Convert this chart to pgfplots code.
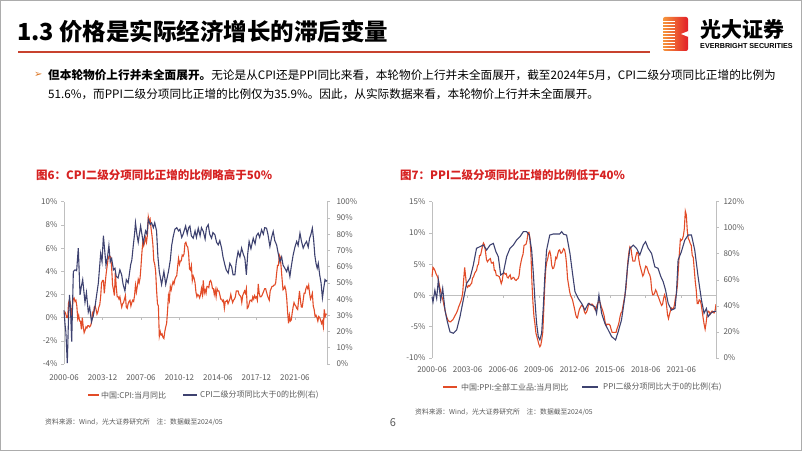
\documentclass[border=0pt]{standalone}
\usepackage{pgfplots}
\pgfplotsset{compat=1.18}
\usepackage{pgfplotstable}
\usepackage{fontspec}
\setmainfont{Noto Sans CJK SC}
\newfontfamily\dejavu{DejaVu Sans}
\newfontfamily\lib{Liberation Sans}
\definecolor{cred}{RGB}{226,76,40}
\definecolor{cnavy}{RGB}{62,66,112}
\definecolor{tred}{RGB}{214,34,34}
\definecolor{tgrey}{RGB}{89,89,89}
\definecolor{agrey}{RGB}{191,191,191}
\definecolor{lred}{RGB}{200,66,46}

% China CPI YoY, monthly 2000-06 .. 2024-05
\pgfplotstableread[row sep=\\]{v\\
0.5\\0.5\\0.3\\0.0\\0.0\\1.3\\1.5\\
1.2\\0.0\\0.8\\1.6\\1.7\\1.4\\1.5\\1.0\\-0.1\\0.2\\-0.3\\-0.3\\
-1.0\\0.0\\-0.8\\-1.3\\-1.1\\-0.8\\-0.9\\-0.7\\-0.7\\-0.8\\-0.7\\-0.4\\
0.4\\0.2\\0.9\\1.0\\0.7\\0.3\\0.5\\0.9\\1.1\\1.8\\3.0\\3.2\\
3.2\\2.1\\3.0\\3.8\\4.4\\5.0\\5.3\\5.3\\5.2\\4.3\\2.8\\2.4\\
1.9\\3.9\\2.7\\1.8\\1.8\\1.6\\1.8\\1.3\\0.9\\1.2\\1.3\\1.6\\
1.9\\0.9\\0.8\\1.2\\1.4\\1.5\\1.0\\1.3\\1.5\\1.4\\1.9\\2.8\\
2.2\\2.7\\3.3\\3.0\\3.4\\4.4\\5.6\\6.5\\6.2\\6.5\\6.9\\6.5\\
7.1\\8.7\\8.3\\8.5\\7.7\\7.1\\6.3\\4.9\\4.6\\4.0\\2.4\\1.2\\
1.0\\-1.6\\-1.2\\-1.5\\-1.4\\-1.7\\-1.8\\-1.2\\-0.8\\-0.5\\0.6\\1.9\\
1.5\\2.7\\2.4\\2.8\\3.1\\2.9\\3.3\\3.5\\3.6\\4.4\\5.1\\4.6\\
4.9\\4.9\\5.4\\5.3\\5.5\\6.4\\6.5\\6.2\\6.1\\5.5\\4.2\\4.1\\
4.5\\3.2\\3.6\\3.4\\3.0\\2.2\\1.8\\2.0\\1.9\\1.7\\2.0\\2.5\\
2.0\\3.2\\2.1\\2.4\\2.1\\2.7\\2.7\\2.6\\3.1\\3.2\\3.0\\2.5\\
2.5\\2.0\\2.4\\1.8\\2.5\\2.3\\2.3\\2.0\\1.6\\1.6\\1.4\\1.5\\
0.8\\1.4\\1.4\\1.5\\1.2\\1.4\\1.6\\2.0\\1.6\\1.3\\1.5\\1.6\\
1.8\\2.3\\2.3\\2.3\\2.0\\1.9\\1.8\\1.3\\1.9\\2.1\\2.3\\2.1\\
2.5\\0.8\\0.9\\1.2\\1.5\\1.5\\1.4\\1.8\\1.6\\1.9\\1.7\\1.8\\
1.5\\2.9\\2.1\\1.8\\1.8\\1.9\\2.1\\2.3\\2.5\\2.5\\2.2\\1.9\\
1.7\\1.5\\2.3\\2.5\\2.7\\2.7\\2.8\\2.8\\3.0\\3.8\\4.5\\4.5\\
5.4\\5.2\\4.3\\3.3\\2.4\\2.5\\2.7\\2.4\\1.7\\0.5\\-0.5\\0.2\\
-0.3\\-0.2\\0.4\\0.9\\1.3\\1.1\\1.0\\0.8\\0.7\\1.5\\2.3\\1.5\\
0.9\\0.9\\1.5\\2.1\\2.1\\2.5\\2.7\\2.5\\2.8\\2.1\\1.6\\1.8\\
2.1\\1.0\\0.7\\0.1\\0.2\\0.0\\-0.3\\0.1\\0.0\\-0.2\\-0.5\\-0.3\\
-0.8\\0.7\\0.1\\0.3\\0.3\\
}\cpi

% China PPI YoY, monthly 2000-06 .. 2024-05
\pgfplotstableread[row sep=\\]{v\\
3.0\\4.5\\4.3\\4.0\\3.5\\3.2\\2.8\\
2.0\\1.2\\0.5\\-0.2\\-0.7\\-1.5\\-2.2\\-3.0\\-3.5\\-3.9\\-4.1\\-4.2\\
-4.2\\-4.0\\-3.9\\-3.6\\-3.3\\-3.0\\-2.7\\-2.3\\-1.8\\-1.4\\-1.0\\-0.5\\
0.4\\2.5\\4.5\\3.0\\1.5\\1.3\\1.6\\1.5\\1.8\\1.9\\2.8\\3.0\\
3.5\\3.8\\4.0\\4.8\\5.0\\6.4\\6.4\\7.1\\7.9\\8.4\\8.1\\7.1\\
5.8\\5.4\\5.6\\5.8\\5.9\\5.2\\5.2\\5.3\\4.0\\4.0\\3.2\\3.2\\
3.1\\3.0\\2.5\\1.9\\2.4\\3.5\\3.6\\3.4\\3.5\\2.9\\2.8\\3.1\\
3.3\\2.6\\2.7\\2.9\\2.8\\2.5\\2.4\\2.6\\2.7\\3.2\\4.6\\5.4\\
6.1\\6.6\\8.0\\8.1\\8.2\\8.8\\10.0\\10.1\\9.1\\6.6\\2.0\\-1.1\\
-3.3\\-4.5\\-6.0\\-6.6\\-7.2\\-7.8\\-8.2\\-7.9\\-7.0\\-5.8\\-2.1\\1.7\\
4.3\\5.4\\5.9\\6.8\\7.1\\6.4\\4.8\\4.3\\4.4\\5.0\\6.1\\5.9\\
6.6\\7.2\\7.3\\6.8\\6.8\\7.1\\7.5\\7.3\\6.5\\5.0\\2.7\\1.7\\
0.7\\0.0\\-0.3\\-0.7\\-1.4\\-2.1\\-2.9\\-3.5\\-3.6\\-2.8\\-2.2\\-1.9\\
-1.6\\-1.6\\-1.9\\-2.6\\-2.9\\-2.7\\-2.3\\-1.6\\-1.3\\-1.5\\-1.4\\-1.4\\
-1.6\\-2.0\\-2.3\\-2.0\\-1.4\\-1.1\\-0.9\\-1.2\\-1.8\\-2.2\\-2.7\\-3.3\\
-4.3\\-4.8\\-4.6\\-4.6\\-4.6\\-4.8\\-5.4\\-5.9\\-5.9\\-5.9\\-5.9\\-5.9\\
-5.3\\-4.9\\-4.3\\-3.4\\-2.8\\-2.6\\-1.7\\-0.8\\0.1\\1.2\\3.3\\5.5\\
6.9\\7.8\\7.6\\6.4\\5.5\\5.5\\5.5\\6.3\\6.9\\6.9\\5.8\\4.9\\
4.3\\3.7\\3.1\\3.4\\4.1\\4.7\\4.6\\4.1\\3.6\\3.3\\2.7\\0.9\\
0.1\\0.1\\0.4\\0.9\\0.6\\0.0\\-0.3\\-0.8\\-1.2\\-1.6\\-1.4\\-0.5\\
0.1\\-0.4\\-1.5\\-3.1\\-3.7\\-3.0\\-2.4\\-2.0\\-2.1\\-2.1\\-1.5\\-0.4\\
0.3\\1.7\\4.4\\6.8\\9.0\\8.8\\9.0\\9.5\\10.7\\13.5\\12.9\\10.3\\
9.1\\8.8\\8.3\\8.0\\6.4\\6.1\\4.2\\2.3\\0.9\\-1.3\\-1.3\\-0.7\\
-0.8\\-1.4\\-2.5\\-3.6\\-4.6\\-5.4\\-4.4\\-3.0\\-2.5\\-2.6\\-3.0\\-2.7\\
-2.5\\-2.7\\-2.8\\-2.5\\-1.4\\
}\ppi

\pgfplotsset{
  slide/.style={
    scale only axis, anchor=south west, xmin=0, xmax=287,
    tick label style={font=\fontsize{8bp}{9bp}\selectfont, text=tgrey},
    /pgf/number format/assume math mode=true,
    axis line style={agrey, line width=0.6bp},
    tick style={agrey, line width=0.6bp},
    tick align=outside, major tick length=3bp,
    yticklabel={\pgfmathprintnumber{\tick}\%},
    axis y line*=left, axis x line=none, xtick=\empty,
    clip=false,
  },
  rightax/.style={axis y line*=right},
}
\tikzset{xl/.style={text=tgrey, font=\fontsize{8bp}{9bp}\selectfont, inner sep=0pt}}

\begin{document}
\begin{tikzpicture}
\path[use as bounding box] (0,0) rectangle (802bp,451bp);
\draw[gray!65, line width=0.8bp] (0.4bp,0.4bp) rectangle (801.6bp,450.6bp);

% header
\node[anchor=west, inner sep=0pt, font=\fontsize{23.5bp}{25bp}\selectfont\bfseries] at (17bp,420bp) {1.3 价格是实际经济增长的滞后变量};
\draw[lred, line width=2.6bp] (18bp,399bp) -- (650bp,399bp);

% logo
\shade[left color={rgb,255:red,246;green,150;blue,60}, right color={rgb,255:red,226;green,30;blue,40}, rounded corners=2bp] (663bp,400bp) rectangle (688bp,434bp);
\foreach \yy in {403,406,...,431} \draw[white, line width=0.7bp] (663bp,\yy bp) -- (675bp,\yy bp);
\fill[white] (688.5bp,414bp) -- (681bp,417bp) -- (688.5bp,420bp) -- cycle;
\node[anchor=west, inner sep=0pt, font=\fontsize{21bp}{23bp}\selectfont\bfseries] at (700bp,422bp) {光大证券};
\node[anchor=west, inner sep=0pt, font=\lib\fontsize{7.2bp}{8bp}\selectfont\bfseries] at (700bp,405bp) {EVERBRIGHT SECURITIES};

% bullet text
\node[anchor=west, inner sep=0pt, text={rgb,255:red,220;green,120;blue,40}, font=\dejavu\fontsize{10bp}{12bp}\selectfont] at (34bp,376bp) {➢};
\node[anchor=west, inner sep=0pt, font=\fontsize{11.65bp}{13bp}\selectfont] at (48bp,376bp) {{\bfseries 但本轮物价上行并未全面展开。}无论是从CPI还是PPI同比来看，本轮物价上行并未全面展开，截至2024年5月，CPI二级分项同比正增的比例为};
\node[anchor=west, inner sep=0pt, font=\fontsize{11.65bp}{13bp}\selectfont] at (48bp,357bp) {51.6\%，而PPI二级分项同比正增的比例仅为35.9\%。因此，从实际数据来看，本轮物价上行并未全面展开。};

% chart titles
\node[anchor=west, inner sep=0pt, text=tred, font=\fontsize{11.5bp}{13bp}\selectfont\bfseries] at (36bp,276bp) {图6：CPI二级分项同比正增的比例略高于50\%};
\node[anchor=west, inner sep=0pt, text=tred, font=\fontsize{11.5bp}{13bp}\selectfont\bfseries] at (400bp,276bp) {图7：PPI二级分项同比正增的比例低于40\%};

% ---------- Chart 1 ----------
\begin{axis}[slide, at={(64bp,87bp)}, width=263bp, height=162.3bp,
  ymin=-4, ymax=10, ytick={-4,-2,...,10}]
\draw[agrey, line width=0.6bp] (axis cs:0,0) -- (axis cs:287,0);
\node[xl] at (axis cs:0,-5.2) {2000-06};
\node[xl] at (axis cs:42,-5.2) {2003-12};
\node[xl] at (axis cs:84,-5.2) {2007-06};
\node[xl] at (axis cs:126,-5.2) {2010-12};
\node[xl] at (axis cs:168,-5.2) {2014-06};
\node[xl] at (axis cs:210,-5.2) {2017-12};
\node[xl] at (axis cs:252,-5.2) {2021-06};
\addplot[cred, line width=1.1bp] table[x expr=\coordindex, y=v] {\cpi};
\end{axis}
\begin{axis}[slide, rightax, at={(64bp,87bp)}, width=263bp, height=162.3bp,
  ymin=0, ymax=100, ytick={0,10,...,100}, yticklabel style={xshift=3bp}]
\addplot[cnavy, line width=1.1bp] coordinates {
(0,33) (1.2,24) (2,20) (3.6,0.5) (5,30) (6,42.6) (7,35) (8.4,13.8) (10.2,57) (12,58) (13.8,57.5) (15.6,71.4)
(17.5,42.6) (19,48) (20.4,52) (22.9,38) (24.5,44) (26.5,32) (28,35) (30,26) (32,30) (34,36) (37.5,50)
(40,68) (41.5,63) (43,79) (45.8,61) (47.5,66) (49,73) (50.5,63) (52,65) (54,58) (55.6,59) (57,54) (59,53)
(61,58) (62.9,55) (64.5,49) (66.5,45) (68,52) (70,50) (72.7,61) (74,64) (75.6,73) (77,80) (78,87) (79.5,80)
(81,75) (83.6,85) (85,80) (86.5,74.5) (89,82) (90.5,80) (92,89) (94,86) (95.6,87) (97.5,84) (99,87) (101,82)
(102.5,66) (104,57) (106.5,49) (109,57) (111,49) (114,57) (116,64) (117.5,73) (119,78) (121,83) (123,84)
(125,82) (126.5,83) (128.5,78) (130,80) (132.7,85) (134.5,80) (136,84) (137.4,85) (139,79) (141,77.5) (143,82)
(144.5,78) (146.5,83.7) (148.5,79) (150,84) (152,81.7) (154,77) (155.5,84) (157.4,85.8) (159,80) (161,77.5)
(162.5,81) (164.7,79.6) (166.5,75) (168.3,73.4) (170,76) (172,71.4) (173.5,66) (175.6,61) (177,58) (179.2,56)
(181,62) (182.9,60) (184.5,55) (186.5,55) (188,63) (190,69.3) (192,66) (193.8,71.4) (195.5,68) (197.4,65)
(199,55) (200.5,68) (202,75.5) (204,71) (206.5,77.5) (208.5,74) (210,79) (211.9,80.6) (213.5,78) (215.6,82.7)
(217.5,80) (219,84) (221,83.7) (222.5,80) (224.7,72.4) (226.5,78) (228.3,81.7) (230,76) (232,73.4) (233.8,68)
(235.6,63) (237.5,66) (239,61) (241,59) (243,56.9) (244.5,60) (246.5,53.9) (248,60) (250,67) (252,72)
(253.9,75.5) (255.5,73) (257.5,80.6) (259,76) (261,71.4) (263,74) (264.7,75.5) (266.5,72) (268,77.5)
(269.5,80) (271,83.7) (272.5,76) (273.7,67) (275,62) (276.3,59) (277.5,62) (279,55) (280.5,50) (282,40.7)
(283.5,47) (284.8,52) (286,51) (287,51.6)};
\end{axis}
% small tick marks on the zero line of chart 1
\foreach \tx in {102.5,141.0,179.5,217.9,256.4,294.9}
  \draw[agrey, line width=0.6bp] (\tx bp,133.4bp) -- (\tx bp,131bp);

% legend 1
\draw[cred, line width=1.1bp] (88bp,56bp) -- (99bp,56bp);
\node[anchor=west, inner sep=0pt, text=tgrey, font=\fontsize{8bp}{9bp}\selectfont] at (101bp,56bp) {中国:CPI:当月同比};
\draw[cnavy, line width=1.1bp] (183bp,56bp) -- (197bp,56bp);
\node[anchor=west, inner sep=0pt, text=tgrey, font=\fontsize{8bp}{9bp}\selectfont] at (200bp,56bp) {CPI二级分项同比大于0的比例(右)};
\node[anchor=west, inner sep=0pt, text=tgrey, font=\fontsize{6.8bp}{8bp}\selectfont] at (45bp,29bp) {资料来源：Wind，光大证券研究所\quad 注：数据截至2024/05};

% ---------- Chart 2 ----------
\begin{axis}[slide, at={(432bp,93bp)}, width=284bp, height=156.3bp,
  ymin=-10, ymax=15, ytick={-10,-5,...,15}]
\draw[agrey, line width=0.6bp] (axis cs:0,0) -- (axis cs:287,0);
\node[xl] at (axis cs:0,-11.8) {2000-06};
\node[xl] at (axis cs:36,-11.8) {2003-06};
\node[xl] at (axis cs:72,-11.8) {2006-06};
\node[xl] at (axis cs:108,-11.8) {2009-06};
\node[xl] at (axis cs:144,-11.8) {2012-06};
\node[xl] at (axis cs:180,-11.8) {2015-06};
\node[xl] at (axis cs:216,-11.8) {2018-06};
\node[xl] at (axis cs:252,-11.8) {2021-06};
\addplot[cred, line width=1.1bp] table[x expr=\coordindex, y=v] {\ppi};
\end{axis}
\begin{axis}[slide, rightax, at={(432bp,93bp)}, width=284bp, height=156.3bp,
  ymin=0, ymax=120, ytick={0,20,...,120}, yticklabel style={xshift=1bp}]
\addplot[cnavy, line width=1.1bp] coordinates {
(0,47) (1,43) (2.9,52) (4.7,45.7) (6.4,59.9) (8.8,44.5) (10.8,53.5) (13.1,36.8) (15.5,27.9) (18.2,20)
(21.5,19) (24.9,21.5) (28.3,31.7) (31.6,44.5) (35,57.3) (38.4,61.2) (41.75,71.4) (45,84.2) (48.5,85.5)
(51.9,86.7) (55.2,82.9) (58.6,86.7) (62,88) (64.6,81.6) (67,77.8) (69.4,63.7) (72,65) (75.4,77.8)
(78.8,84.2) (82.2,86.7) (85.5,90.6) (88.9,93.1) (92.3,97) (95.6,97) (98.3,94.4) (100.7,82.9) (102.4,65)
(104,44.5) (105.7,26.6) (107.4,16.4) (109,13.9) (110.8,19) (112.5,39.4) (114,62.4) (115.8,82.9) (119,94.4)
(122.6,95.2) (129,95.2) (131,97) (133,95) (136,94.4) (139.4,80.3) (142,65) (144.5,50.9) (147.8,45.7)
(151.2,41.9) (154.5,36.8) (158,41.9) (161.3,40.6) (164.6,39.4) (166.3,34.3) (168.7,48.3) (171.4,34.3)
(174.7,26.6) (178.1,21.5) (181.5,16.4) (185.5,13.9) (188.2,20.3) (191.5,29.2) (194.9,47) (197.6,70)
(200,84.2) (203.4,86.7) (206.7,84.2) (210,79.1) (213.5,86.7) (215.8,89.3) (218.5,84.2) (221.9,80.3)
(225.2,70) (228.5,68.8) (231.3,62.4) (233.6,58.6) (236,52.2) (238.7,41.9) (242,36.8) (245.5,38) (247,49.6)
(248.7,75.3) (252,81.6) (255.5,90.6) (258.9,94.4) (262.2,94.4) (265.5,82.9) (268.9,62.4) (272.3,44.5)
(274.9,34.3) (277.3,38) (279,31.7) (281.7,34.3) (284,35.5) (287,35.9)};
\end{axis}
% small tick marks on the zero line of chart 2
\foreach \tx in {467.6,503.3,538.9,574.5,610.1,645.7,681.4}
  \draw[agrey, line width=0.6bp] (\tx bp,155.5bp) -- (\tx bp,153bp);

% legend 2
\draw[cred, line width=1.1bp] (443bp,64bp) -- (457bp,64bp);
\node[anchor=west, inner sep=0pt, text=tgrey, font=\fontsize{8bp}{9bp}\selectfont] at (461bp,64bp) {中国:PPI:全部工业品:当月同比};
\draw[cnavy, line width=1.1bp] (582bp,64bp) -- (598bp,64bp);
\node[anchor=west, inner sep=0pt, text=tgrey, font=\fontsize{8bp}{9bp}\selectfont] at (603bp,64bp) {PPI二级分项同比大于0的比例(右)};
\node[anchor=west, inner sep=0pt, text=tgrey, font=\fontsize{6.8bp}{8bp}\selectfont] at (415bp,39bp) {资料来源：Wind，光大证券研究所\quad 注：数据截至2024/05};

% page number
\node[text=tgrey, font=\fontsize{11bp}{12bp}\selectfont] at (393bp,28bp) {6};
\end{tikzpicture}
\end{document}
